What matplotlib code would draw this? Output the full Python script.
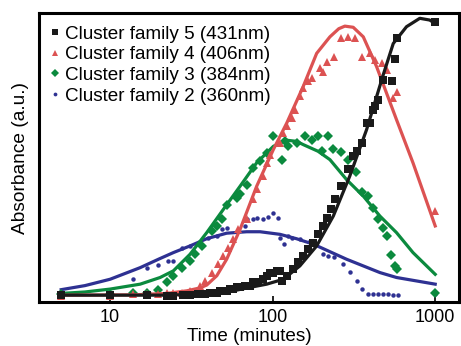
import matplotlib
matplotlib.use("Agg")
import matplotlib.pyplot as plt
from matplotlib.ticker import FixedLocator, FixedFormatter, NullLocator

plt.rcParams['font.family'] = ['Liberation Sans', 'DejaVu Sans']

# data (time in minutes, absorbance in a.u.)
t5 = [5, 10, 16.8, 22.3, 24.5, 28.2, 31, 34.9, 38.4, 41.2, 45.3, 47.4, 52.1, 54.6, 57.3, 60, 63,
      67.6, 72.6, 76.1, 81.6, 87.6, 91.9, 96.3, 101, 106, 111, 113.7, 122, 134, 144, 154, 165.7,
      178, 191, 205, 215, 230, 241, 265, 291, 313, 328, 357, 378, 396, 416, 425, 446, 479, 540,
      565, 578, 1000]
y5 = [0.025, 0.025, 0.025, 0.023, 0.023, 0.025, 0.025, 0.029, 0.029, 0.034, 0.034, 0.040, 0.040,
      0.046, 0.046, 0.052, 0.052, 0.057, 0.057, 0.069, 0.069, 0.080, 0.092, 0.100, 0.103, 0.109,
      0.110, 0.075, 0.092, 0.115, 0.138, 0.161, 0.183, 0.206, 0.235, 0.264, 0.292, 0.321, 0.356,
      0.401, 0.459, 0.505, 0.522, 0.550, 0.619, 0.619, 0.665, 0.677, 0.700, 0.768, 0.766, 0.839,
      0.912, 0.969]
fit5_t = [5, 22.3, 35.7, 57.3, 72.6, 91.9, 116.4, 147, 186.5, 236, 298, 378, 479, 552, 666, 804, 925, 1000]
fit5_y = [0.025, 0.025, 0.029, 0.040, 0.052, 0.063, 0.080, 0.126, 0.195, 0.298, 0.436, 0.596, 0.786,
          0.894, 0.952, 0.981, 0.975, 0.963]

t4 = [5, 10, 13.9, 16.8, 19.8, 22.3, 24.5, 27.6, 31.0, 35.7, 38.4, 42.2, 46.3, 49.7, 53.3, 57.3,
      61.5, 69.2, 76.1, 79.7, 87.6, 91.9, 96.3, 111, 116.4, 122, 131, 137, 147, 154, 165.7, 174,
      195, 205, 215, 238, 265, 291, 320, 352, 396, 425, 468, 502, 552, 578, 1000]
y4 = [0.023, 0.023, 0.029, 0.029, 0.029, 0.032, 0.032, 0.034, 0.040, 0.055, 0.075, 0.103, 0.132,
      0.161, 0.189, 0.218, 0.252, 0.287, 0.356, 0.390, 0.436, 0.482, 0.510, 0.550, 0.585, 0.608,
      0.636, 0.665, 0.711, 0.740, 0.763, 0.774, 0.808, 0.797, 0.831, 0.849, 0.912, 0.915, 0.912,
      0.849, 0.860, 0.837, 0.826, 0.804, 0.705, 0.728, 0.315]
fit4_t = [5, 13.9, 22.3, 29.6, 35.7, 39.3, 45.3, 52.1, 63.0, 79.7, 101, 122, 154, 186.5, 225, 255,
          278, 313, 361, 436, 578, 730, 1000]
fit4_y = [0.025, 0.026, 0.031, 0.040, 0.050, 0.060, 0.092, 0.149, 0.252, 0.401, 0.528, 0.619,
          0.745, 0.860, 0.917, 0.945, 0.954, 0.950, 0.917, 0.814, 0.631, 0.482, 0.264]

t3 = [5, 10, 13.9, 16.8, 19.8, 22.3, 24.5, 27.6, 31.0, 33.3, 36.6, 42.2, 45.3, 48.6, 52.1, 60.0,
      63.0, 69.2, 76.1, 83.6, 91.9, 101, 113.7, 119, 125, 140.5, 158, 174, 191, 200, 220, 236,
      265, 291, 325, 352, 387, 416, 446, 479, 502, 534, 565, 584, 1000]
y3 = [0.029, 0.029, 0.032, 0.034, 0.044, 0.069, 0.092, 0.120, 0.143, 0.166, 0.195, 0.247, 0.264,
      0.287, 0.338, 0.361, 0.373, 0.407, 0.464, 0.487, 0.516, 0.573, 0.493, 0.556, 0.539, 0.550,
      0.573, 0.562, 0.573, 0.522, 0.576, 0.528, 0.518, 0.493, 0.451, 0.381, 0.369, 0.327, 0.287,
      0.258, 0.229, 0.163, 0.126, 0.115, 0.034]
fit3_t = [5, 7, 10, 15.3, 20.3, 24.5, 31.0, 39.3, 49.7, 63.0, 79.7, 101, 122, 140.5, 154, 190, 225,
          285, 361, 457, 578, 730, 1000]
fit3_y = [0.031, 0.036, 0.046, 0.063, 0.086, 0.109, 0.166, 0.241, 0.321, 0.401, 0.482, 0.539,
          0.560, 0.556, 0.545, 0.522, 0.493, 0.424, 0.367, 0.298, 0.241, 0.172, 0.097]

t2 = [5, 10, 13.9, 16.8, 19.8, 22.8, 24.5, 27.6, 31.0, 36.6, 40.2, 45.3, 48.6, 52.1, 67.6, 69.2,
      76.1, 79.7, 87.6, 94.1, 101, 108.6, 111, 117.5, 125, 131, 147, 170, 182, 205, 220, 238, 271,
      298, 328, 357, 387, 416, 446, 479, 514, 552, 591, 1000]
y2 = [0.025, 0.025, 0.080, 0.120, 0.128, 0.143, 0.143, 0.189, 0.195, 0.195, 0.224, 0.229, 0.252,
      0.258, 0.264, 0.287, 0.287, 0.292, 0.289, 0.295, 0.307, 0.292, 0.224, 0.201, 0.229, 0.224,
      0.218, 0.212, 0.201, 0.166, 0.161, 0.158, 0.132, 0.106, 0.075, 0.048, 0.029, 0.029, 0.029,
      0.029, 0.029, 0.026, 0.025, 0.029]
fit2_t = [5, 7, 10, 15.3, 20, 24.5, 31.0, 39.3, 52.1, 69.2, 83.6, 111, 140, 178, 285, 457, 578, 1000]
fit2_y = [0.044, 0.058, 0.080, 0.120, 0.150, 0.172, 0.195, 0.220, 0.239, 0.244, 0.244, 0.235,
          0.220, 0.201, 0.149, 0.103, 0.086, 0.063]

labels = ['Cluster family 5 (431nm)', 'Cluster family 4 (406nm)',
          'Cluster family 3 (384nm)', 'Cluster family 2 (360nm)']

c5, c4, c3, c2 = '#1a1a1a', '#dc5252', '#0b8a3e', '#2e3192'

fig = plt.figure(figsize=(4.61, 3.46), dpi=100)
ax = fig.add_axes([0.085, 0.126, 0.911, 0.837])

# draw family 2 first so family 5 ends up on top
ax.plot(fit2_t, fit2_y, color=c2, lw=2.3, zorder=2)
h2, = ax.plot(t2, y2, 'o', color=c2, ms=3.2, mew=0, zorder=3)
ax.plot(fit3_t, fit3_y, color=c3, lw=2.3, zorder=4)
h3, = ax.plot(t3, y3, 'D', color=c3, ms=4.6, mew=0, zorder=5)
ax.plot(fit4_t, fit4_y, color=c4, lw=2.3, zorder=6)
h4, = ax.plot(t4, y4, '^', color=c4, ms=5.6, mew=0, zorder=7)
ax.plot(fit5_t, fit5_y, color=c5, lw=2.3, zorder=8)
h5, = ax.plot(t5, y5, 's', color=c5, ms=5.2, mew=0, zorder=9)

ax.set_xscale('log')
ax.set_xlim(3.66, 1404)
ax.set_ylim(0, 1.0)
ax.xaxis.set_major_locator(FixedLocator([10, 100, 1000]))
ax.xaxis.set_major_formatter(FixedFormatter(['10', '100', '1000']))
ax.xaxis.set_minor_locator(NullLocator())
ax.set_yticks([])
ax.tick_params(axis='x', direction='in', length=4, width=1.2, labelsize=13, pad=5)
for s in ax.spines.values():
    s.set_linewidth(2.2)

ax.set_xlabel('Time (minutes)', fontsize=13.6, labelpad=1)
ax.set_ylabel('Absorbance (a.u.)', fontsize=13.8, labelpad=7)

leg = ax.legend([h5, h4, h3, h2], labels, loc='upper left', frameon=False, fontsize=13.6,
                handlelength=0.5, handletextpad=0.25, labelspacing=0.18,
                borderaxespad=0.2, bbox_to_anchor=(0.0, 0.995), markerscale=0.85)

fig.savefig('out.png', dpi=100)
